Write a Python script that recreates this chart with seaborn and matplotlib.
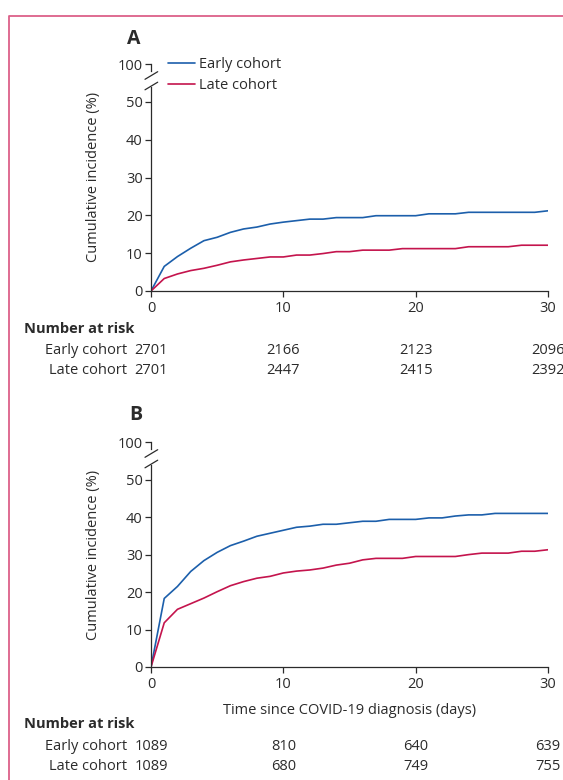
import pandas as pd
import matplotlib.pyplot as plt
import matplotlib.transforms as mtransforms
from matplotlib.lines import Line2D
import seaborn as sns

# Step 1: data (cumulative incidence, %)
days = list(range(0, 31))
early_a = [0, 6.5, 9.1, 11.3, 13.3, 14.2, 15.5, 16.4, 16.9, 17.7, 18.2, 18.6, 19.0, 19.0, 19.4, 19.4,
           19.4, 19.9, 19.9, 19.9, 19.9, 20.4, 20.4, 20.4, 20.8, 20.8, 20.8, 20.8, 20.8, 20.8, 21.2]
late_a = [0, 3.3, 4.5, 5.4, 6.0, 6.8, 7.7, 8.2, 8.6, 9.0, 9.0, 9.5, 9.5, 9.9, 10.4, 10.4,
          10.8, 10.8, 10.8, 11.2, 11.2, 11.2, 11.2, 11.2, 11.7, 11.7, 11.7, 11.7, 12.1, 12.1, 12.1]
early_b = [0, 18.3, 21.5, 25.5, 28.4, 30.6, 32.4, 33.6, 34.9, 35.7, 36.5, 37.3, 37.6, 38.1, 38.1, 38.5,
           38.9, 38.9, 39.4, 39.4, 39.4, 39.8, 39.8, 40.3, 40.6, 40.6, 41.0, 41.0, 41.0, 41.0, 41.0]
late_b = [0, 11.8, 15.4, 16.9, 18.4, 20.1, 21.7, 22.8, 23.7, 24.2, 25.1, 25.6, 25.9, 26.4, 27.2, 27.7,
          28.6, 29.0, 29.0, 29.0, 29.5, 29.5, 29.5, 29.5, 30.0, 30.4, 30.4, 30.4, 30.9, 30.9, 31.3]

risk_days = [0, 10, 20, 30]
risk_early_a = [2701, 2166, 2123, 2096]
risk_late_a = [2701, 2447, 2415, 2392]
risk_early_b = [1089, 810, 640, 639]
risk_late_b = [1089, 680, 749, 755]

cohorts = ["Early cohort", "Late cohort"]
colors = {"Early cohort": "#1c5fab", "Late cohort": "#c4144d"}
ink = "#2b2b2b"

# Step 2: style
sns.set_style("ticks")
plt.rcParams["font.family"] = ["Open Sans", "DejaVu Sans"]
plt.rcParams["font.size"] = 10.5
plt.rcParams["text.color"] = ink
plt.rcParams["axes.edgecolor"] = ink
plt.rcParams["xtick.color"] = ink
plt.rcParams["ytick.color"] = ink

W, H = 563, 780
fig = plt.figure(figsize=(W / 100, H / 100), dpi=100)


def fx(x):
    return x / W


def fy(y):
    return 1 - y / H


def panel(top, bottom, early, late, risk_e, risk_l, letter, letter_xy, risk_rows, show_legend, xlabel):
    # top: pixel y of the 100 tick; bottom: pixel y of the 0 line
    ax = fig.add_axes([fx(151), fy(bottom), fx(548) - fx(151), (bottom - (top + 22.4)) / H])
    ax_top = fig.add_axes([fx(151), fy(top + 6.7), fx(548) - fx(151), 6.7 / H])

    df = pd.DataFrame({
        "day": days * 2,
        "value": early + late,
        "cohort": [cohorts[0]] * len(days) + [cohorts[1]] * len(days),
    })
    sns.lineplot(data=df, x="day", y="value", hue="cohort", palette=colors, linewidth=1.2, ax=ax,
                 legend=show_legend)

    ax.set_xlim(0, 30)
    ax.set_ylim(0, 54)
    ax.set_xticks([0, 10, 20, 30])
    ax.set_yticks([0, 10, 20, 30, 40, 50])
    ax.set_xlabel("")
    ax.set_ylabel("")
    sns.despine(ax=ax)
    for s in ["left", "bottom"]:
        ax.spines[s].set_linewidth(0.9)
    ax.tick_params(length=4, width=0.9, pad=2, labelsize=10.5)
    ax.tick_params(axis="x", pad=3.5)

    ax_top.set_ylim(97, 100)
    ax_top.set_yticks([100])
    ax_top.set_xticks([])
    ax_top.patch.set_alpha(0)
    for s in ["top", "right", "bottom"]:
        ax_top.spines[s].set_visible(False)
    ax_top.spines["left"].set_linewidth(0.9)
    ax_top.tick_params(length=4, width=0.9, pad=2, labelsize=10.5)

    # axis break marks
    for dy in (0, 10.5):
        fig.add_artist(Line2D([fx(145), fx(157.7)], [fy(top + 15 + dy), fy(top + 7.4 + dy)],
                              color=ink, lw=0.9))

    fig.text(fx(94), fy(top + 113), "Cumulative incidence (%)", rotation=90,
             ha="center", va="center", fontsize=10.5)
    fig.text(fx(letter_xy[0]), fy(letter_xy[1]), letter, fontsize=14, fontweight="bold",
             ha="center", va="center")

    if xlabel:
        fig.text(fx(349.5), fy(bottom + 44), xlabel, ha="center", va="center", fontsize=10.5)

    if show_legend:
        leg = ax.legend(loc="upper left", bbox_to_anchor=(fx(168), fy(57.5)), bbox_transform=fig.transFigure,
                        frameon=False, handlelength=1.85, handletextpad=0.3, labelspacing=0.4,
                        borderpad=0, borderaxespad=0, fontsize=10.5, title=None)
        for line in leg.get_lines():
            line.set_linewidth(1.2)

    # number at risk table
    y_head, y_e, y_l = risk_rows
    fig.text(fx(24), fy(y_head), "Number at risk", fontweight="bold", ha="left", va="center", fontsize=10.5)
    fig.text(fx(127), fy(y_e), "Early cohort", ha="right", va="center", fontsize=10.5)
    fig.text(fx(127), fy(y_l), "Late cohort", ha="right", va="center", fontsize=10.5)
    trans = mtransforms.blended_transform_factory(ax.transData, fig.transFigure)
    for d, ne, nl in zip(risk_days, risk_e, risk_l):
        ax.text(d, fy(y_e), str(ne), transform=trans, ha="center", va="center", fontsize=10.5, clip_on=False)
        ax.text(d, fy(y_l), str(nl), transform=trans, ha="center", va="center", fontsize=10.5, clip_on=False)
    return ax


# Step 3: panels
panel(64.3, 291, early_a, late_a, risk_early_a, risk_late_a, "A", (133.5, 39.5), (329, 351, 371), True, None)
panel(442.3, 667, early_b, late_b, risk_early_b, risk_late_b, "B", (135.5, 415), (724, 746, 766), False,
      "Time since COVID-19 diagnosis (days)")

# pink frame on the left and top edges
frame = "#dc6089"
fig.add_artist(Line2D([fx(8.5), fx(8.5), fx(563)], [fy(780), fy(15.7), fy(15.7)], color=frame, lw=1.3))

plt.savefig("out.png", dpi=100)
plt.close()
